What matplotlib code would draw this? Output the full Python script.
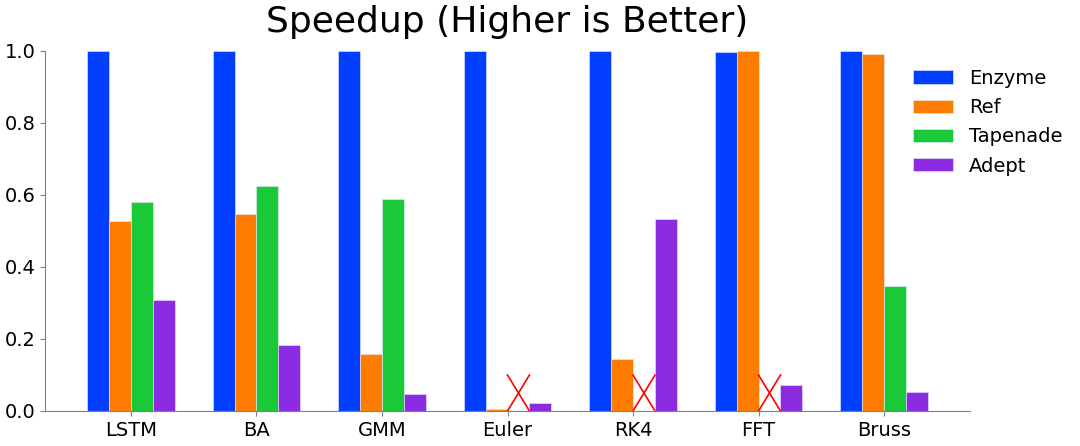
import matplotlib
matplotlib.use("Agg")
import matplotlib.pyplot as plt
import numpy as np

categories = ["LSTM", "BA", "GMM", "Euler", "RK4", "FFT", "Bruss"]
series_names = ["Enzyme", "Ref", "Tapenade", "Adept"]
enzyme = [1.0, 1.0, 1.0, 1.0, 1.0, 0.997, 1.0]
ref = [0.527, 0.546, 0.158, 0.005, 0.144, 1.0, 0.992]
tapenade = [0.581, 0.624, 0.588, None, None, None, 0.348]
adept = [0.308, 0.182, 0.048, 0.023, 0.533, 0.071, 0.053]
colors = ["#023eff", "#ff7c00", "#1ac938", "#8b2be2"]

plt.rcParams['font.family'] = ['DejaVu Sans']
fig = plt.figure(figsize=(10.8, 4.46), dpi=100)
ax = fig.add_axes([45/1080, 1 - 411/446, 925/1080, 360/446])

x = np.arange(len(categories))
w = 0.175
all_series = [enzyme, ref, tapenade, adept]
for i, (name, vals, c) in enumerate(zip(series_names, all_series, colors)):
    pos = x + (i - 1.5) * w
    heights = [v if v is not None else 0 for v in vals]
    ax.bar(pos, heights, width=w, color=c, label=name, edgecolor="#e8ecff", linewidth=0.4)
    for p, v in zip(pos, vals):
        if v is None:
            ax.plot([p - w/2, p + w/2], [0, 0.1], color="red", lw=1.2)
            ax.plot([p - w/2, p + w/2], [0.1, 0], color="red", lw=1.2)

ax.set_ylim(0, 1.0)
ax.set_xticks(x)
ax.set_xticklabels(categories, fontsize=14)
ax.set_yticks([0.0, 0.2, 0.4, 0.6, 0.8, 1.0])
ax.set_yticklabels(["0.0", "0.2", "0.4", "0.6", "0.8", "1.0"], fontsize=14)
for s in ["top", "right"]:
    ax.spines[s].set_visible(False)
for s in ["left", "bottom"]:
    ax.spines[s].set_color("#808080")
ax.tick_params(colors="#808080", labelcolor="black")
ax.set_title("Speedup (Higher is Better)", fontsize=26, pad=14)
ax.legend(loc="upper left", bbox_to_anchor=(905/1080, 1 - 61/446),
          bbox_transform=fig.transFigure, borderaxespad=0, frameon=False,
          fontsize=14, handlelength=2.05, handleheight=0.67, handletextpad=0.85,
          labelspacing=0.53)

fig.savefig("out.png", dpi=100)
